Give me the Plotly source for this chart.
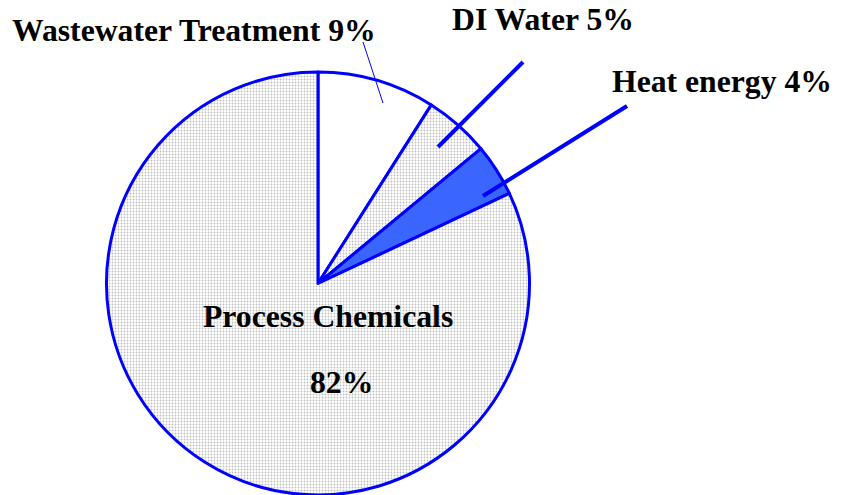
import plotly.graph_objects as go

labels = ["Wastewater Treatment", "DI Water", "Heat energy", "Process Chemicals"]
values = [9, 5, 4, 82]
colors = ["#ffffff", "#dedede", "#3a66ff", "#dedede"]
patterns = ["", ".", "", "."]

W, H = 844, 495

def px(x):
    return x / W

def py(y):
    return min(1.0, max(0.0, 1 - y / H))

fig = go.Figure(go.Pie(
    labels=labels, values=values, sort=False, direction="clockwise", rotation=0,
    textinfo="none", hoverinfo="label+percent",
    marker=dict(colors=colors, line=dict(color="#0000ff", width=3),
                pattern=dict(shape=patterns, fgcolor="#c0c0c0", size=3, solidity=0.3)),
    domain=dict(x=[px(106), px(530)], y=[py(495), py(72)]),
    showlegend=False,
))

font = dict(family="Liberation Serif", size=31.7, color="#000000")
texts = [
    ("<b>Wastewater Treatment 9%</b>", 10, 31),
    ("<b>DI Water 5%</b>", 450, 19),
    ("<b>Heat energy 4%</b>", 610, 82),
    ("<b>Process Chemicals</b>", 201, 316),
    ("<b>82%</b>", 308, 382),
]
for t, x, y in texts:
    fig.add_annotation(text=t, x=px(x), y=py(y), xref="paper", yref="paper",
                       showarrow=False, font=font, xanchor="left", yanchor="middle")

leaders = [((363, 42), (383, 103), 1), ((523, 62), (438, 147), 4), ((627, 106), (483, 196), 4)]
for (x0, y0), (x1, y1), w in leaders:
    fig.add_shape(type="line", xref="paper", yref="paper", x0=px(x0), y0=py(y0), x1=px(x1), y1=py(y1),
                  line=dict(color="#0000ff", width=w))

fig.update_layout(width=W, height=H, margin=dict(l=0, r=0, t=0, b=0),
                  paper_bgcolor="#ffffff", plot_bgcolor="#ffffff")
fig.write_html("out.html", config={"displayModeBar": False},
               post_script="document.body.style.margin='0px';")
